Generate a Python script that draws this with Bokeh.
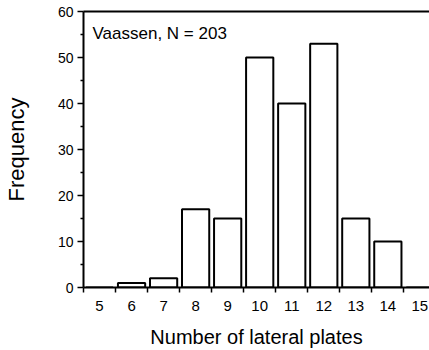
from bokeh.plotting import figure
from bokeh.models import Range1d, FixedTicker, LinearAxis, Label, ColumnDataSource
from bokeh.embed import file_html
from bokeh.resources import INLINE

# ---- data ----
plates = [5, 6, 7, 8, 9, 10, 11, 12, 13, 14, 15]
frequency = [0, 1, 2, 17, 15, 50, 40, 53, 15, 10, 0]
y_ticks = [0, 10, 20, 30, 40, 50, 60]
y_minor = [5, 15, 25, 35, 45, 55]
annotation_text = "Vaassen, N = 203"
x_title = "Number of lateral plates"
y_title = "Frequency"

FONT = "Liberation Sans"

p = figure(width=429, height=350, output_backend="svg", toolbar_location=None,
           x_range=Range1d(4.5, 15.3), y_range=Range1d(0, 60),
           min_border_left=83, min_border_right=0, min_border_top=11,
           min_border_bottom=63, x_axis_type=None, y_axis_type=None,
           background_fill_color="white", border_fill_color="white")
p.outline_line_color = None
p.grid.visible = False

src = ColumnDataSource(dict(x=plates, top=frequency))
p.vbar(x="x", top="top", bottom=0, width=0.85, source=src,
       fill_color="white", line_color="black", line_width=2)

# x axis
xa = LinearAxis(ticker=FixedTicker(ticks=plates,
                                   minor_ticks=[v - 0.5 for v in plates] + [plates[-1] + 0.5]))
xa.axis_line_width = 2
xa.axis_line_color = "black"
xa.major_tick_out = 0
xa.major_tick_in = 0
xa.minor_tick_out = 5
xa.minor_tick_in = 0
xa.minor_tick_line_color = "black"
xa.minor_tick_line_width = 1.5
xa.major_label_standoff = 8
xa.major_label_text_font = FONT
xa.major_label_text_font_size = "15px"
xa.major_label_text_color = "black"
xa.axis_label = x_title
xa.axis_label_text_font = FONT
xa.axis_label_text_font_size = "20px"
xa.axis_label_text_font_style = "normal"
xa.axis_label_text_color = "black"
xa.axis_label_standoff = 12
p.add_layout(xa, "below")

# y axis
ya = LinearAxis(ticker=FixedTicker(ticks=y_ticks, minor_ticks=y_minor))
ya.axis_line_width = 2
ya.axis_line_color = "black"
ya.major_tick_out = 6
ya.major_tick_in = 0
ya.major_tick_line_width = 1.5
ya.major_tick_line_color = "black"
ya.minor_tick_out = 3
ya.minor_tick_in = 0
ya.minor_tick_line_color = "black"
ya.minor_tick_line_width = 1.5
ya.major_label_standoff = 4
ya.major_label_text_font = FONT
ya.major_label_text_font_size = "14px"
ya.major_label_text_color = "black"
ya.axis_label = y_title
ya.axis_label_text_font = FONT
ya.axis_label_text_font_size = "22px"
ya.axis_label_text_font_style = "normal"
ya.axis_label_text_color = "black"
ya.axis_label_standoff = 26
p.add_layout(ya, "left")

# top frame line
ta = LinearAxis(ticker=FixedTicker(ticks=[]))
ta.axis_line_width = 2
ta.axis_line_color = "black"
ta.major_tick_out = 0
ta.major_tick_in = 0
ta.minor_tick_out = 0
ta.minor_tick_in = 0
ta.major_label_text_font_size = "0px"
p.add_layout(ta, "above")

# annotation inside the frame
p.add_layout(Label(x=9, y=254, x_units="screen", y_units="screen",
                   text=annotation_text, text_font=FONT, text_font_size="17px",
                   text_color="black", text_baseline="alphabetic", text_align="left"))

open("out.html", "w").write(file_html(p, INLINE))
